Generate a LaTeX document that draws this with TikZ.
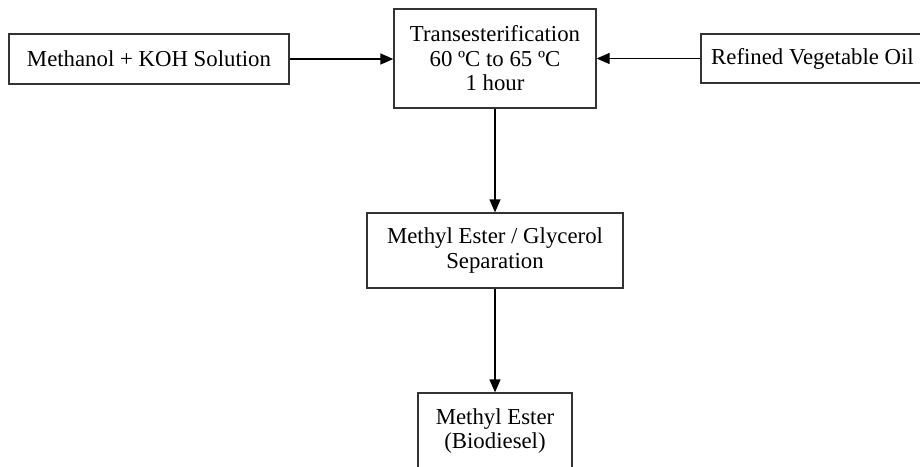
\documentclass[tikz,border=0pt]{standalone}
\usepackage{fontspec}
\setmainfont{Liberation Serif}
\usetikzlibrary{arrows.meta}

\begin{document}
\begin{tikzpicture}[x=1pt, y=1pt,
    box/.style={draw=black!80, line width=1.3pt, fill=white, align=center,
      inner sep=0pt, font=\fontsize{22.8}{24.5}\selectfont},
    flow/.style={line width=1.3pt, -{Triangle[length=13pt, width=11pt]}}]
    \useasboundingbox (0,0) rectangle (920,-466);
    \node[box, minimum width=280pt, minimum height=50pt] (methanol) at (149,-59) {Methanol + KOH Solution};
    \node[box, minimum width=202pt, minimum height=99pt] (trans) at (495,-58.5) {Transesterification\\60 ºC to 65 ºC\\1 hour};
    \node[box, minimum width=223pt, minimum height=49pt] (oil) at (812.5,-58.5) {Refined Vegetable Oil};
    \node[box, minimum width=256pt, minimum height=75pt] (separation) at (495,-250.5) {Methyl Ester / Glycerol\\Separation};
    \node[box, minimum width=154pt, minimum height=76pt] (ester) at (495,-431) {Methyl Ester\\(Biodiesel)};
    \draw[flow] (methanol.east) -- (methanol.east -| trans.west);
    \draw[flow] (oil.west) -- (oil.west -| trans.east);
    \draw[flow] (trans.south) -- (separation.north);
    \draw[flow] (separation.south) -- (ester.north);
\end{tikzpicture}
\end{document}
